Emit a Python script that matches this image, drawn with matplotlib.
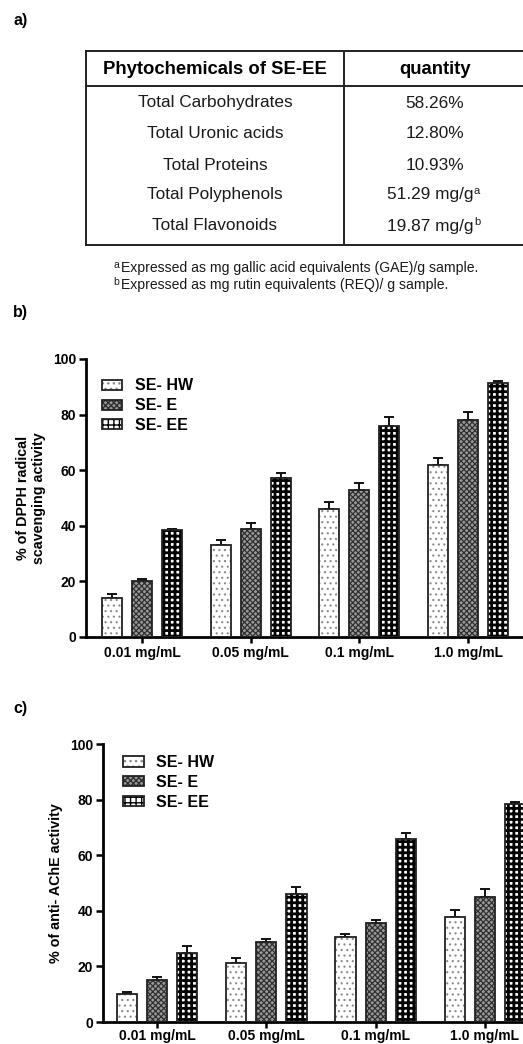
import numpy as np
import matplotlib
matplotlib.use('Agg')
import matplotlib.pyplot as plt
from matplotlib.patches import Patch

plt.rcParams['font.family'] = ['Liberation Sans', 'DejaVu Sans']
plt.rcParams['hatch.linewidth'] = 1.0

# table data
table_cols = ['Phytochemicals of SE-EE', 'quantity']
table_items = ['Total Carbohydrates', 'Total Uronic acids', 'Total Proteins',
               'Total Polyphenols', 'Total Flavonoids']
table_qty = ['58.26%', '12.80%', '10.93%', '51.29 mg/g', '19.87 mg/g']
table_sup = ['', '', '', 'a', 'b']
footnotes = [('a', 'Expressed as mg gallic acid equivalents (GAE)/g sample.'),
             ('b', 'Expressed as mg rutin equivalents (REQ)/ g sample.')]

# bar data
doses = ['0.01 mg/mL', '0.05 mg/mL', '0.1 mg/mL', '1.0 mg/mL']
extracts = ['SE- HW', 'SE- E', 'SE- EE']

dpph = {'SE- HW': [14.1, 33.0, 46.0, 62.0],
        'SE- E': [20.1, 39.0, 53.0, 78.0],
        'SE- EE': [38.5, 57.3, 76.0, 91.2]}
dpph_err = {'SE- HW': [1.3, 2.0, 2.7, 2.4],
            'SE- E': [0.9, 2.0, 2.3, 2.9],
            'SE- EE': [0.3, 1.7, 3.0, 1.0]}

ache = {'SE- HW': [10.2, 21.2, 30.6, 37.8],
        'SE- E': [15.0, 28.8, 35.6, 45.0],
        'SE- EE': [24.8, 45.9, 65.8, 78.4]}
ache_err = {'SE- HW': [0.6, 1.8, 1.2, 2.4],
            'SE- E': [1.3, 1.2, 1.1, 2.9],
            'SE- EE': [2.7, 2.5, 2.2, 0.6]}

styles = {'SE- HW': dict(face='white', hatch='...', hcol='#8a8a8a', hlw=0.8),
          'SE- E': dict(face='#9a9a9a', hatch='xxxxxx', hcol='#303030', hlw=0.9),
          'SE- EE': dict(face='white', hatch='+++', hcol='black', hlw=2.0)}

W, H = 523, 1044
fig = plt.figure(figsize=(W / 100, H / 100), dpi=100)


def px(x, y):
    return x / W, 1 - y / H


# ---- panel a: table ----
fig.text(*px(13, 20), 'a)', fontsize=11.5, fontweight='bold', va='center')
tab = fig.add_axes([0, 0, 1, 1], zorder=-1)
tab.set_xlim(0, W)
tab.set_ylim(H, 0)
tab.axis('off')
lw = 1.4
tab.plot([86, 530], [51, 51], c='#222', lw=lw)
tab.plot([86, 530], [86, 86], c='#222', lw=lw)
tab.plot([86, 530], [245, 245], c='#222', lw=lw)
tab.plot([86, 86], [51, 245], c='#222', lw=lw)
tab.plot([344, 344], [51, 245], c='#222', lw=lw)
tab.text(215, 70, table_cols[0], ha='center', va='center', fontsize=13.3, fontweight='bold')
tab.text(435, 70, table_cols[1], ha='center', va='center', fontsize=13.3, fontweight='bold')
row_y = [103, 133, 165, 195, 226]
for y, item, q, s in zip(row_y, table_items, table_qty, table_sup):
    tab.text(215, y, item, ha='center', va='center', fontsize=12.4, color='#1a1a1a')
    if s:
        t = tab.text(430, y, q, ha='center', va='center', fontsize=12.4, color='#1a1a1a')
        tab.annotate(s, xy=(1, 0.75), xycoords=t, xytext=(0.5, 0), textcoords='offset points',
                     ha='left', va='center', fontsize=8, color='#1a1a1a')
    else:
        tab.text(435, y, q, ha='center', va='center', fontsize=12.4, color='#1a1a1a')
for (s, txt), y in zip(footnotes, [268, 285]):
    tab.text(113, y - 3, s, ha='left', va='center', fontsize=7.5, color='#1a1a1a')
    tab.text(121, y, txt, ha='left', va='center', fontsize=10.1, color='#1a1a1a')


def draw_bars(ax, vals, errs, ylabel, xpad):
    x = np.arange(len(doses))
    width = 0.185
    handles = []
    for k, name in enumerate(extracts):
        st = styles[name]
        xs = x + (k - 1) * 0.276
        bars = ax.bar(xs, vals[name], width, color=st['face'], hatch=st['hatch'],
                      edgecolor=st['hcol'], linewidth=0, zorder=2)
        for b in bars:
            if hasattr(b, 'set_hatch_linewidth'):
                b.set_hatch_linewidth(st['hlw'])
        ax.bar(xs, vals[name], width, fill=False, edgecolor='#222', linewidth=1.3, zorder=3)
        ax.errorbar(xs, vals[name], yerr=[np.zeros(len(doses)), errs[name]], fmt='none',
                    ecolor='#111', elinewidth=1.4, capsize=3.6, capthick=1.4, zorder=1)
        p1 = Patch(facecolor=st['face'], hatch=st['hatch'], edgecolor=st['hcol'], linewidth=0)
        if hasattr(p1, 'set_hatch_linewidth'):
            p1.set_hatch_linewidth(st['hlw'])
        p2 = Patch(fill=False, edgecolor='#222', linewidth=1.3)
        handles.append((p1, p2))
    ax.set_ylim(0, 100)
    ax.set_yticks([0, 20, 40, 60, 80, 100])
    ax.set_xticks(x)
    ax.set_xticklabels(doses)
    ax.spines['top'].set_visible(False)
    ax.spines['right'].set_visible(False)
    ax.spines['left'].set_linewidth(2)
    ax.spines['bottom'].set_linewidth(2)
    ax.tick_params(axis='y', width=1.8, length=5, labelsize=10, pad=2)
    ax.tick_params(axis='x', width=1.8, length=4, labelsize=10, pad=xpad)
    for lab in ax.get_xticklabels() + ax.get_yticklabels():
        lab.set_fontweight('bold')
    ax.set_ylabel(ylabel, fontsize=10.3, fontweight='bold', labelpad=5)
    return handles


# ---- panel b ----
fig.text(*px(13, 313), 'b)', fontsize=11.5, fontweight='bold', va='center')
ax1 = fig.add_axes([86 / W, 1 - 637 / H, (W - 86) / W, 278 / H])
h = draw_bars(ax1, dpph, dpph_err, '% of DPPH radical\nscavenging activity', 2.5)
ax1.set_xlim(-0.515, 3.505)
ax1.legend(h, extracts, loc='upper left', bbox_to_anchor=(0.036, 0.93), frameon=False,
           prop=dict(weight='bold', size=11.5), handlelength=1.3, handleheight=0.6,
           handletextpad=0.8, labelspacing=0.3, borderpad=0, borderaxespad=0)

# ---- panel c ----
fig.text(*px(13, 709), 'c)', fontsize=11.5, fontweight='bold', va='center')
ax2 = fig.add_axes([103 / W, 1 - 1022 / H, (W - 103) / W, 278 / H])
h = draw_bars(ax2, ache, ache_err, '% of anti- AChE activity', 1.0)
ax2.set_xlim(-0.494, 3.348)
ax2.legend(h, extracts, loc='upper left', bbox_to_anchor=(0.047, 0.96), frameon=False,
           prop=dict(weight='bold', size=11.5), handlelength=1.3, handleheight=0.6,
           handletextpad=0.8, labelspacing=0.3, borderpad=0, borderaxespad=0)

fig.savefig('out.png', dpi=100)
